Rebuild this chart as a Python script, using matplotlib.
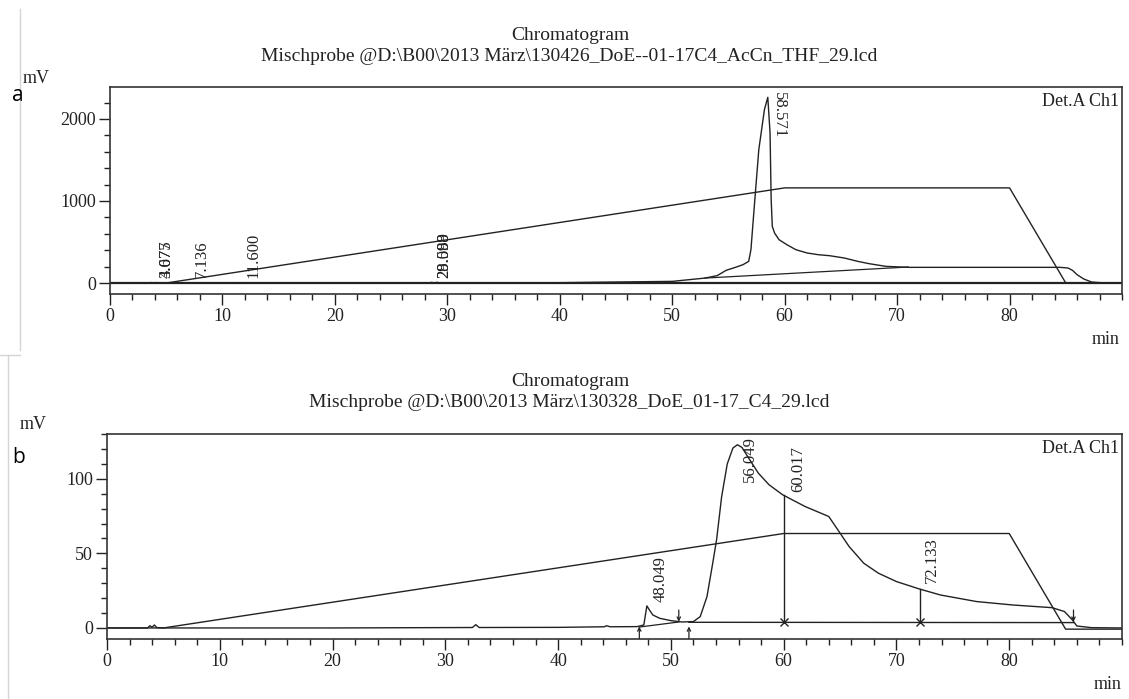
import matplotlib
matplotlib.use("Agg")
import matplotlib.pyplot as plt
from matplotlib.lines import Line2D
from matplotlib.ticker import MultipleLocator

# ---- panel a data ----
a_time = [0, 3.5, 3.675, 3.9, 4.077, 4.3, 7.0, 7.136, 7.3, 11.4, 11.6, 11.8, 28.4, 28.589, 28.8,
          29.098, 29.3, 40, 50, 52.9, 54.0, 54.8, 55.6, 56.3, 56.8, 57.0, 57.3, 57.7, 58.2, 58.5,
          58.7, 58.8, 58.9, 59.1, 59.5, 60.2, 61, 62, 63, 64, 65.3, 66.5, 67.5, 69, 71, 75, 80,
          84.5, 85.2, 85.6, 86.0, 86.6, 87.3, 88.5, 90]
a_signal = [0, 0, 6, 1, 6, 0, 0, 5, 0, 0, 5, 0, 0, 8, 1,
            8, 1, 4, 20, 60, 90, 155, 190, 224, 264, 406, 935, 1626, 2114, 2264,
            1830, 1016, 691, 610, 528, 467, 406, 366, 345, 333, 305, 264, 236, 203, 191, 191, 191,
            191, 183, 154, 102, 49, 12, 0, 0]
a_grad_time = [0, 5.0, 60, 80, 85, 90]
a_grad = [0, 0, 1160, 1160, 0, 0]
a_base_time = [52.9, 71.0]
a_base = [60, 195]
a_labels = ["3.675", "4.077", "7.136", "11.600", "28.589", "29.098", "58.571"]
a_label_x = [5.0, 5.0, 8.2, 12.8, 29.7, 29.7, 59.5]
a_label_y = [65, 65, 65, 65, 65, 65, 2330]
a_label_rot = [90, 90, 90, 90, 90, 90, -90]

# ---- panel b data ----
b_time = [0, 3.6, 3.8, 4.0, 4.2, 4.4, 5.0, 20, 32.4, 32.7, 33.0, 40.1, 44.1, 44.3, 44.6, 47.0,
          47.6, 47.87, 48.1, 48.4, 49.0, 50.0, 51.0, 52.0, 52.6, 53.2, 53.7, 54.05, 54.5, 55.0,
          55.5, 55.9, 56.3, 56.8, 57.75, 58.7, 59.9, 61.9, 64.0, 64.8, 65.8, 67.1, 68.4, 70.0,
          72.0, 73.9, 77.1, 80.3, 83.8, 84.9, 85.6, 86.0, 87.3, 90]
b_signal = [0, 0, 1.5, 0.5, 2.0, 0.3, 0, 0, 0.3, 2.2, 0.3, 0.4, 0.8, 1.5, 0.8, 0.9,
            2.0, 14.8, 12.0, 8.7, 6.5, 4.9, 4.0, 4.3, 7.6, 21.0, 43.0, 59.0, 88.0, 110.0,
            120.6, 122.8, 121.0, 115.0, 103.8, 96.0, 89.3, 81.4, 74.7, 65.8, 54.6, 43.4, 36.7, 31.1,
            26.2, 22.1, 17.7, 15.4, 13.6, 11.0, 5.4, 1.3, 0.2, 0]
b_grad_time = [0, 5.0, 60, 80, 85, 90]
b_grad = [0, 0, 63.3, 63.3, -0.8, -0.8]
b_base1_time = [47.2, 50.7]
b_base1 = [0.6, 4.0]
b_base2_time = [51.6, 85.7]
b_base2 = [3.8, 3.6]
b_drop_time = [60.017, 72.133]
b_drop_top = [89.0, 26.0]
b_up_arrows = [47.2, 51.6]
b_down_arrows = [50.7, 85.7]
b_labels = ["48.049", "56.049", "60.017", "72.133"]
b_label_x = [49.1, 57.0, 61.3, 73.1]
b_label_y = [17.5, 97.5, 91.0, 30.0]

title1 = "Chromatogram"
a_title2 = "Mischprobe @D:\\B00\\2013 März\\130426_DoE--01-17C4_AcCn_THF_29.lcd"
b_title2 = "Mischprobe @D:\\B00\\2013 März\\130328_DoE_01-17_C4_29.lcd"

SERIF = "Liberation Serif"
INK = "#222222"
W, H = 1129, 699

fig = plt.figure(figsize=(W / 100, H / 100), dpi=100)


def fx(px):
    return px / W


def fy(py):
    return 1 - py / H


def style_axes(ax, ylim, ymajor, yminor):
    ax.set_xlim(0, 90)
    ax.set_ylim(*ylim)
    ax.xaxis.set_major_locator(MultipleLocator(10))
    ax.xaxis.set_minor_locator(MultipleLocator(2))
    ax.yaxis.set_major_locator(MultipleLocator(ymajor))
    ax.yaxis.set_minor_locator(MultipleLocator(yminor))
    ax.set_xticks([0, 10, 20, 30, 40, 50, 60, 70, 80])
    ax.tick_params(axis="both", which="major", direction="out", length=8, width=1.0,
                   color=INK, labelsize=13, pad=2)
    ax.tick_params(axis="both", which="minor", direction="out", length=4.5, width=1.0, color=INK)
    for lab in ax.get_xticklabels() + ax.get_yticklabels():
        lab.set_fontfamily(SERIF)
        lab.set_color(INK)
    for sp in ax.spines.values():
        sp.set_color("#333333")
        sp.set_linewidth(1.2)
    ax.text(0.997, 0.97, "Det.A Ch1", transform=ax.transAxes, ha="right", va="top",
            fontsize=13, family=SERIF, color=INK)


def arrow(ax, x, y_from, y_to):
    ax.annotate("", xy=(x, y_to), xytext=(x, y_from),
                arrowprops=dict(arrowstyle="->", color=INK, lw=0.9, mutation_scale=6,
                                shrinkA=0, shrinkB=0))


# ---- panel a ----
ax1 = fig.add_axes([fx(110), fy(294), fx(1122 - 110), (294 - 87) / H])
ax1.plot(a_grad_time, a_grad, color=INK, lw=1.0)
ax1.axhline(0, color=INK, lw=1.6)
ax1.plot(a_time, a_signal, color=INK, lw=1.0)
ax1.plot(a_base_time, a_base, color=INK, lw=0.9)
for txt, x, y, r in zip(a_labels, a_label_x, a_label_y, a_label_rot):
    ax1.text(x, y, txt, rotation=r, ha="center", va="bottom" if r == 90 else "top",
             fontsize=12, family=SERIF, color=INK)
style_axes(ax1, (-134, 2390), 1000, 200)

# ---- panel b ----
ax2 = fig.add_axes([fx(107), fy(639), fx(1122 - 107), (639 - 434) / H])
ax2.plot(b_grad_time, b_grad, color=INK, lw=1.0)
ax2.plot(b_time, b_signal, color=INK, lw=1.0)
ax2.plot(b_base1_time, b_base1, color=INK, lw=0.9)
ax2.plot(b_base2_time, b_base2, color=INK, lw=1.0)
for t, top in zip(b_drop_time, b_drop_top):
    ax2.plot([t, t], [b_base2[0], top], color=INK, lw=1.0)
    ax2.plot(t, b_base2[0], marker="x", ms=6, mew=1.0, color=INK)
for t in b_up_arrows:
    arrow(ax2, t, -7.0, 1.0)
for t in b_down_arrows:
    arrow(ax2, t, 12.0, 4.2)
for txt, x, y in zip(b_labels, b_label_x, b_label_y):
    ax2.text(x, y, txt, rotation=90, ha="center", va="bottom",
             fontsize=12, family=SERIF, color=INK)
style_axes(ax2, (-7.4, 130), 50, 10)

# ---- titles and axis captions ----
for base1, base2, title2 in [(40, 61, a_title2), (386, 407, b_title2)]:
    fig.text(fx(570), fy(base1), title1, ha="center", va="baseline",
             fontsize=14, family=SERIF, color=INK)
    fig.text(fx(569), fy(base2), title2, ha="center", va="baseline",
             fontsize=14, family=SERIF, color=INK)

fig.text(fx(23), fy(83), "mV", ha="left", va="baseline", fontsize=13, family=SERIF, color=INK)
fig.text(fx(20), fy(429), "mV", ha="left", va="baseline", fontsize=13, family=SERIF, color=INK)
fig.text(fx(1120), fy(344), "min", ha="right", va="baseline", fontsize=13, family=SERIF, color=INK)
fig.text(fx(1122), fy(689), "min", ha="right", va="baseline", fontsize=13, family=SERIF, color=INK)
fig.text(fx(12), fy(101), "a", ha="left", va="baseline", fontsize=15, family="Open Sans", color="black")
fig.text(fx(12), fy(463), "b", ha="left", va="baseline", fontsize=15, family="Open Sans", color="black")

# faint crop borders from the source scan
for xs, ys in [([20, 20], [9, 350]), ([8, 8], [355, 699]), ([0, 20], [355, 355])]:
    fig.add_artist(Line2D([fx(v) for v in xs], [fy(v) for v in ys],
                          transform=fig.transFigure, color="#d4d4d4", lw=1.0))

fig.savefig("out.png", dpi=100)
